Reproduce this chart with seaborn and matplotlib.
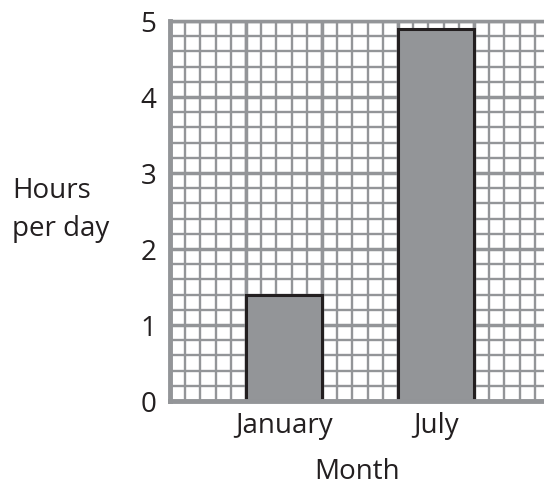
import numpy as np
import pandas as pd
import seaborn as sns
import matplotlib.pyplot as plt
from matplotlib.ticker import MultipleLocator

sns.set_style("white")
plt.rcParams['font.family'] = ['Open Sans', 'DejaVu Sans']

months = ["January", "July"]
hours = [1.4, 4.9]
bar_pos = [1.5, 3.5]   # centre of each bar on the grid paper

grid_col = "#939598"
ink = "#231f20"

df = pd.DataFrame({"pos": bar_pos, "hours": hours, "month": months})

fig = plt.figure(figsize=(5.44, 4.85), dpi=100)
ax = fig.add_axes([170/544, 1 - 402/485, 374/544, 380/485])

# graph paper
ax.set_xlim(0, 374/76)
ax.set_ylim(0, 5)
ax.xaxis.set_minor_locator(MultipleLocator(0.2))
ax.yaxis.set_minor_locator(MultipleLocator(0.2))
ax.grid(which="minor", color=grid_col, lw=1.7)
ax.grid(which="major", axis="y", color=grid_col, lw=2.5)
ax.vlines(np.arange(0, 5), 0, 5, color=grid_col, lw=2.5, zorder=0.6)
ax.set_axisbelow(True)

sns.barplot(data=df, x="pos", y="hours", native_scale=True, width=0.5,
            color=grid_col, saturation=1, edgecolor=ink, linewidth=2.2, ax=ax)

fs = 20
ax.set_xticks(bar_pos)
ax.set_xticklabels(months)
ax.set_yticks(range(6))
ax.tick_params(axis="both", length=0, labelsize=fs, colors=ink)
ax.tick_params(axis="y", pad=10)
ax.tick_params(axis="x", pad=7)

for s in ["left", "bottom"]:
    ax.spines[s].set_color(grid_col)
    ax.spines[s].set_linewidth(3.5)
ax.spines["top"].set_color(grid_col)
ax.spines["top"].set_linewidth(2.5)
ax.spines["right"].set_visible(False)

ax.set_xlabel("Month", fontsize=fs, color=ink, labelpad=13)
ax.set_ylabel("Hours\nper day", fontsize=fs, color=ink, rotation=0,
              ha="left", va="center", multialignment="left", linespacing=1.5)
ax.yaxis.set_label_coords(-0.4225, 0.505)

fig.savefig("out.png", dpi=100)
